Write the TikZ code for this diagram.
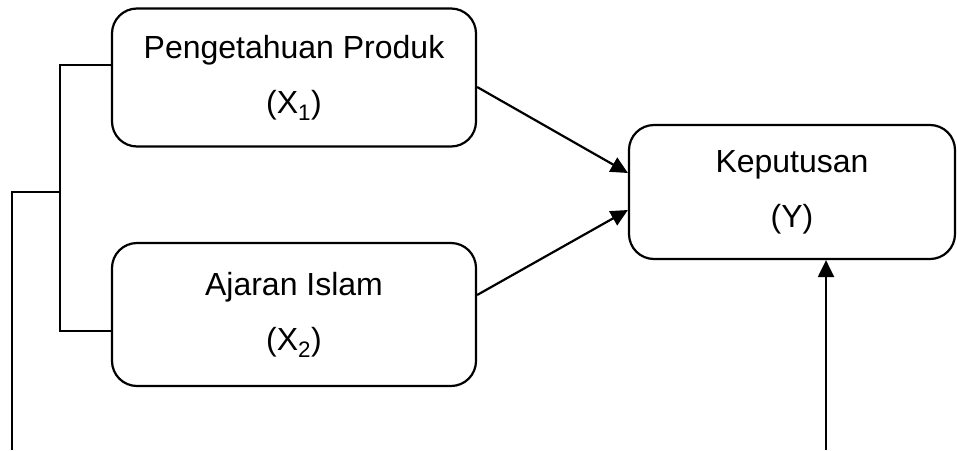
\documentclass[tikz,border=0pt]{standalone}
\usepackage{fontspec}
\setmainfont{Liberation Sans}
\usetikzlibrary{arrows.meta}

\begin{document}
\begin{tikzpicture}[x=1pt,y=-1pt,line width=2.2pt,
	>={Triangle[length=17pt,width=16pt]},
	box/.style={
		draw,
		rounded corners=25pt,
		align=center,
		inner sep=0pt,
		%minimum width=365pt,
		font=\fontsize{32}{55}\selectfont,
	},
]
	\useasboundingbox (0,0) rectangle (957,450);
	\node[box,minimum width=364pt,minimum height=138pt] (x1) at (294,77.5)
		{Pengetahuan Produk\\(X\textsubscript{1})};
	\node[box,minimum width=364pt,minimum height=143pt] (x2) at (294,314.5)
		{Ajaran Islam\\(X\textsubscript{2})};
	\node[box,minimum width=326pt,minimum height=134pt] (y) at (792,192)
		{Keputusan\\(Y)};
	% bracket on the left
	\coordinate (j) at (60,192);
	\coordinate (s) at (12,450);
	\draw ([yshift=12.5pt]x1.west) -| (j) |- ([yshift=-16.5pt]x2.west);
	\draw (j) -| (s);
	\draw[->] ([yshift=-9.5pt]x1.east) -- ([yshift=19pt]y.west);
	\draw[->] ([yshift=19.5pt]x2.east) -- ([yshift=-18pt]y.west);
	\coordinate (b) at (826,450);
	\draw[->] (b) -- (b |- y.south);
\end{tikzpicture}
\end{document}
